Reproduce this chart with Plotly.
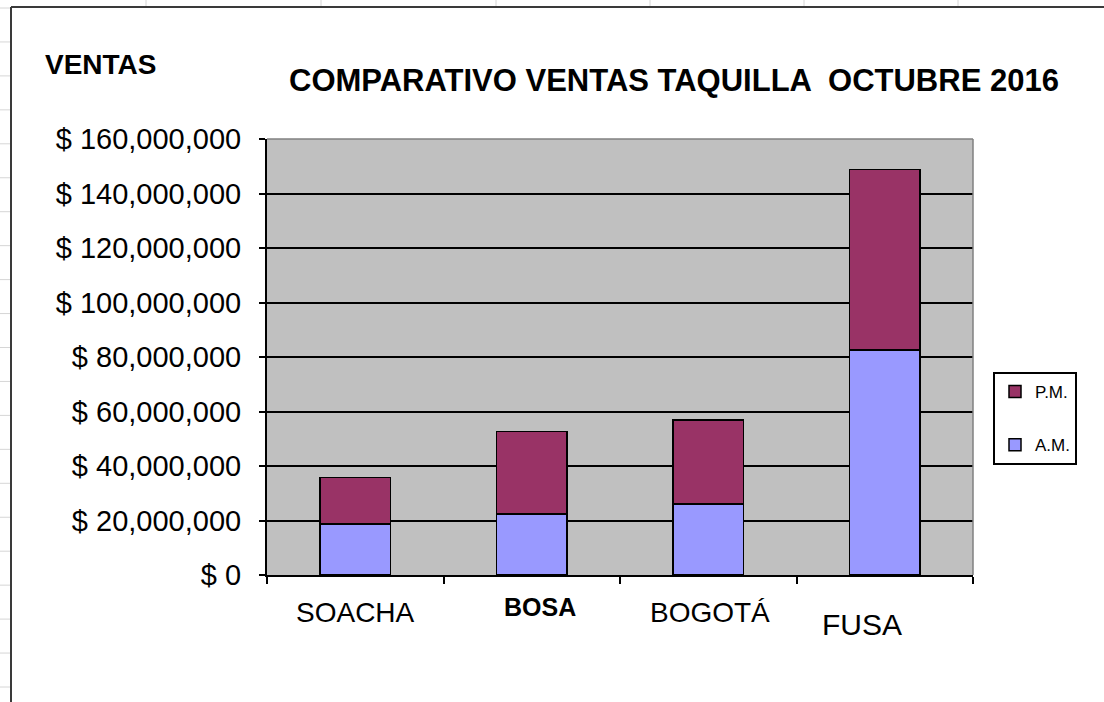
import plotly.graph_objects as go

# Ventas de taquilla, octubre 2016 (pesos)
sedes = ["SOACHA", "BOSA", "BOGOTÁ", "FUSA"]
ventas_am = [18_700_000, 22_400_000, 26_100_000, 82_600_000]
ventas_pm = [17_000_000, 30_200_000, 30_800_000, 66_300_000]
y_ticks = [0, 20_000_000, 40_000_000, 60_000_000, 80_000_000,
           100_000_000, 120_000_000, 140_000_000, 160_000_000]
y_tick_text = [f"$ {v:,}" for v in y_ticks]

FONT = "Liberation Sans"
W_FIG, H_FIG = 1104, 702
L, R, T, B = 267, 973, 139, 575  # plot-area edges in pixels


def px(x):
    return (x - L) / (R - L)


def py(y):
    return (B - y) / (B - T)


fig = go.Figure()
fig.add_trace(go.Bar(
    name="A.M.", x=sedes, y=ventas_am, legendgroup="am", legendrank=2,
    marker=dict(color="#9999FF", line=dict(color="black", width=1.5)),
))
fig.add_trace(go.Bar(
    name="P.M.", x=sedes, y=ventas_pm, legendgroup="pm", legendrank=1,
    marker=dict(color="#993366", line=dict(color="black", width=1.5)),
))

shapes = []
# worksheet cell grid visible around the chart object
for k in range(21):
    y = 8 + 33.95 * k
    shapes.append(dict(type="line", xref="paper", yref="paper",
                       x0=px(0), x1=px(10), y0=py(y), y1=py(y),
                       line=dict(color="#d6d6d6", width=1)))
for x in [146, 321, 496, 650, 804, 958]:
    shapes.append(dict(type="line", xref="paper", yref="paper",
                       x0=px(x), x1=px(x), y0=py(0), y1=py(6),
                       line=dict(color="#d6d6d6", width=1)))
# chart object frame
shapes.append(dict(type="line", xref="paper", yref="paper",
                   x0=px(11), x1=px(11), y0=py(7), y1=py(710),
                   line=dict(color="#3a3a3a", width=2)))
shapes.append(dict(type="line", xref="paper", yref="paper",
                   x0=px(11), x1=px(1110), y0=py(7), y1=py(7),
                   line=dict(color="#3a3a3a", width=2)))
# plot-area border (top and right)
shapes.append(dict(type="line", xref="paper", yref="paper",
                   x0=0, x1=1, y0=1, y1=1, layer="above",
                   line=dict(color="#808080", width=1.5)))
shapes.append(dict(type="line", xref="paper", yref="paper",
                   x0=1, x1=1, y0=0, y1=1, layer="above",
                   line=dict(color="#808080", width=1.5)))

annotations = [
    dict(text="COMPARATIVO VENTAS TAQUILLA \u00a0OCTUBRE 2016",
         xref="paper", yref="paper", x=px(674), y=py(80),
         xanchor="center", yanchor="middle", showarrow=False,
         font=dict(family=FONT, size=31, color="black", weight="bold")),
    dict(text="VENTAS", xref="paper", yref="paper", x=px(43), y=py(64),
         xanchor="left", yanchor="middle", showarrow=False,
         font=dict(family=FONT, size=28, color="black", weight="bold")),
]
# category labels, each with its own styling
label_style = {
    "SOACHA": dict(dx=0, y=612, size=28, weight="normal"),
    "BOSA": dict(dx=8, y=607, size=25, weight="bold"),
    "BOGOTÁ": dict(dx=2, y=612, size=28, weight="normal"),
    "FUSA": dict(dx=-23, y=624, size=30, weight="normal"),
}
for s in sedes:
    st = label_style[s]
    annotations.append(dict(
        text=s, x=s, xref="x", yref="paper", y=py(st["y"]), xshift=st["dx"],
        xanchor="center", yanchor="middle", showarrow=False,
        font=dict(family=FONT, size=st["size"], color="black",
                  weight=st["weight"]),
    ))

fig.update_layout(
    width=W_FIG, height=H_FIG,
    margin=dict(l=L, r=W_FIG - R, t=T, b=H_FIG - B, pad=0),
    paper_bgcolor="white", plot_bgcolor="#C0C0C0",
    barmode="stack", bargap=0.6,
    font=dict(family=FONT, color="black"),
    showlegend=True,
    legend=dict(
        x=px(993), y=py(372), xanchor="left", yanchor="top",
        bgcolor="white", bordercolor="black", borderwidth=2,
        font=dict(family=FONT, size=17, color="black"),
        traceorder="grouped", tracegroupgap=28,
        itemwidth=30,
    ),
    shapes=shapes, annotations=annotations,
)
fig.update_yaxes(
    range=[0, 160_000_000], tickmode="array",
    tickvals=y_ticks, ticktext=y_tick_text,
    tickfont=dict(family=FONT, size=29, color="black"),
    showgrid=True, gridcolor="black", gridwidth=1.5,
    showline=True, linecolor="black", linewidth=2,
    ticks="outside", ticklen=6, tickcolor="black", tickwidth=2,
    zeroline=False, ticklabelstandoff=12,
)
fig.update_xaxes(
    type="category", range=[-0.5, 3.5],
    showticklabels=False, tickson="boundaries",
    ticks="outside", ticklen=7, tickcolor="black", tickwidth=2,
    showline=True, linecolor="black", linewidth=2, showgrid=False,
)

fig.write_html("out.html")
